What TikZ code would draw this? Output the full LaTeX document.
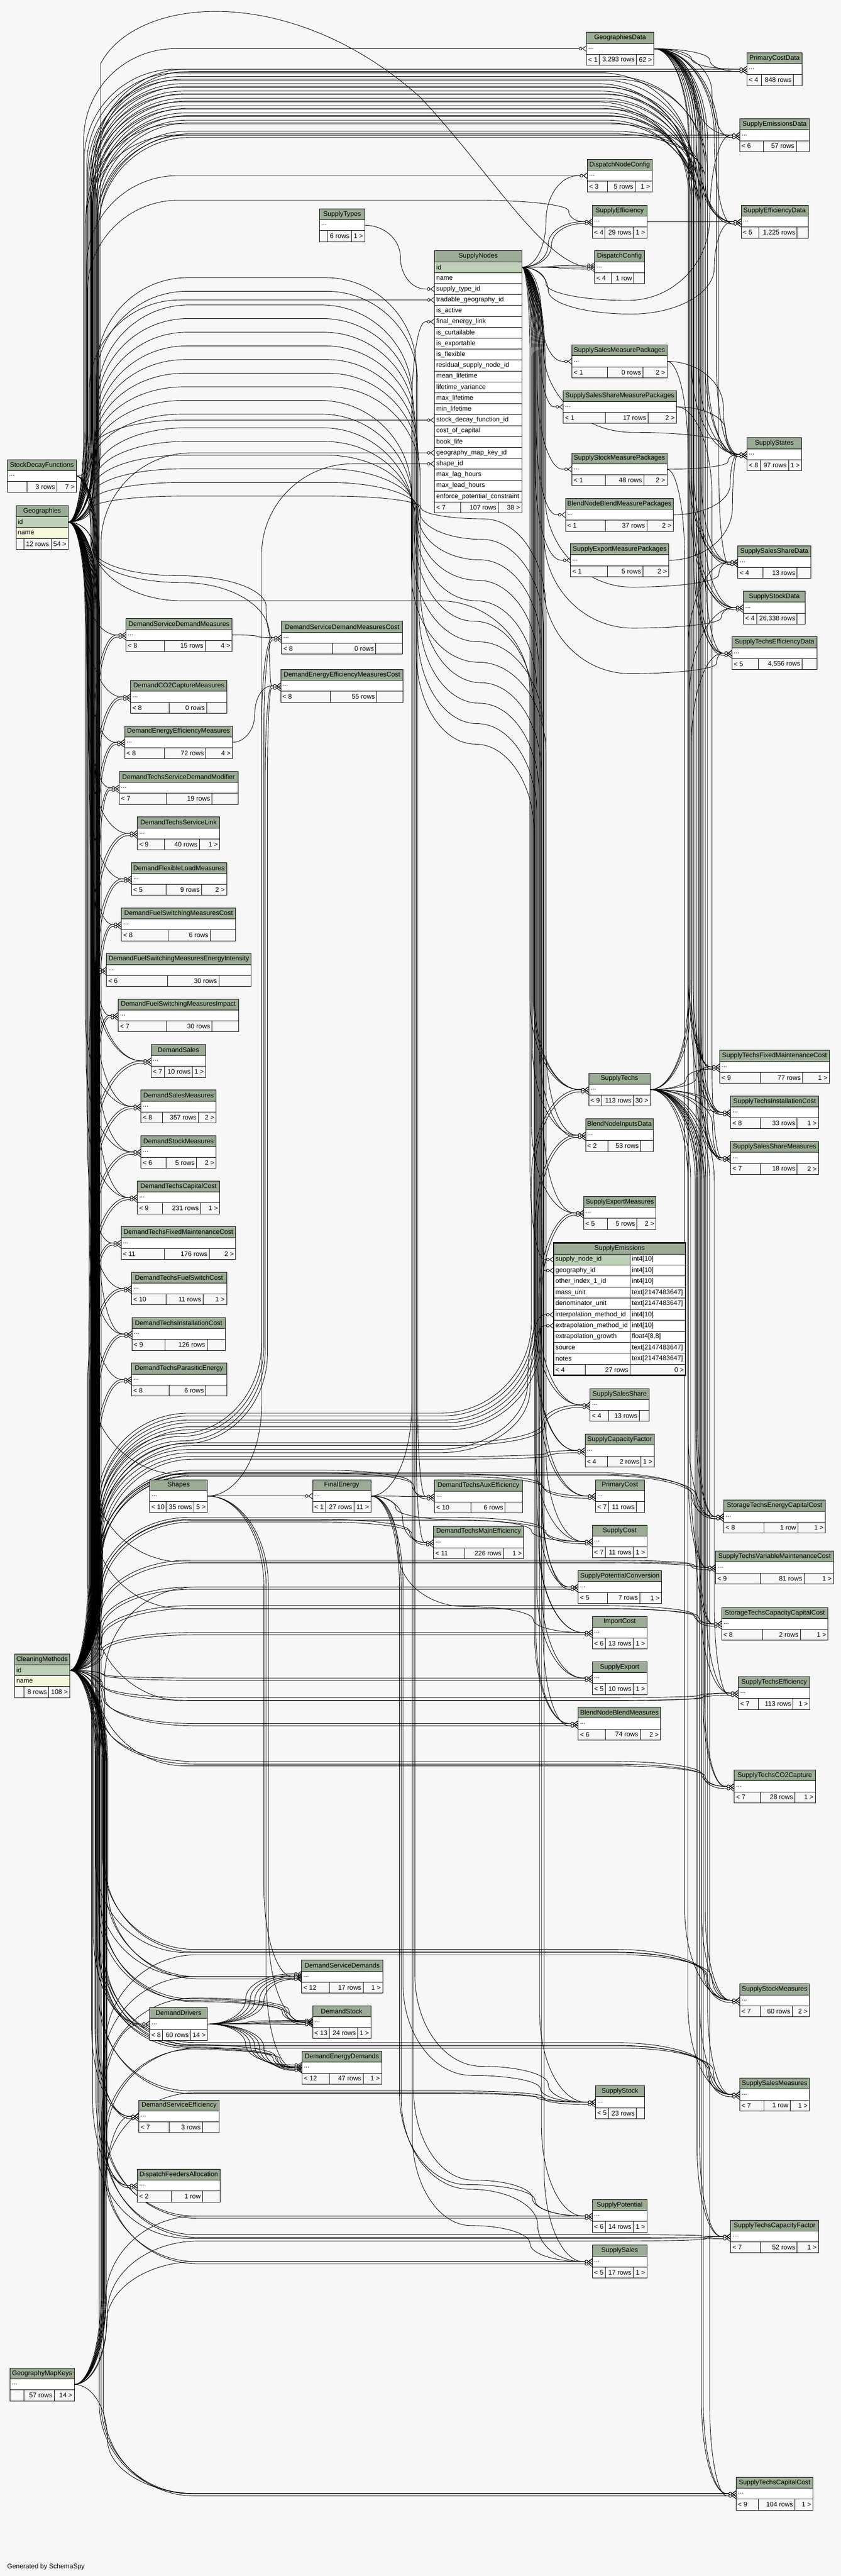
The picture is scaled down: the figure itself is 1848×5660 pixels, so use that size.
\documentclass[tikz,border=0pt]{standalone}
\usepackage{fontspec}
\setmainfont{Liberation Sans}
\usetikzlibrary{arrows.meta,calc}
\definecolor{bgc}{HTML}{F7F7F7}
\definecolor{hdrc}{HTML}{9BAB96}
\definecolor{keyc}{HTML}{BED1B8}
\definecolor{namec}{HTML}{F4F7DA}
\definecolor{ftc}{HTML}{F7F7F7}
\pgfdeclarelayer{back}
\pgfdeclarelayer{edges}
\pgfsetlayers{back,edges,main}
\def\Rx{200}
\def\Ry{200}
\newcommand\tfont{\fontsize{14.5}{17}\selectfont}
\tikzset{
 txt/.style={font=\tfont, inner sep=0pt, outer sep=0pt},
 cell/.style={draw=black, line width=0.9pt},
 tblnode/.style={draw=none, inner sep=0pt, outer sep=0pt},
 fk/.style={draw=black, line width=1pt,
   -{Circle[length=7pt,width=7pt,fill=white,line width=1pt] Straight Barb[reversed,length=8pt,width=12pt,line width=1pt]}}
}
\def\tbparse#1/#2/#3/#4/#5\endparse{\def\fda{#1}\def\fdb{#2}\def\fL{#3}\def\fM{#4}\def\fR{#5}}
% collapsed table: name, x1, y1, x2, title, d1/d2/L/M/R
\newcommand\tb[6]{%
 \tbparse#6\endparse
 \fill[white] (#2,#3) rectangle (#4,#3+72);
 \fill[hdrc] (#2,#3) rectangle (#4,#3+24);
 \fill[ftc] (#2,#3+48) rectangle (#4,#3+72);
 \draw[cell] (#2,#3) rectangle (#4,#3+24);
 \draw[cell] (#2,#3+24) rectangle (#4,#3+48);
 \draw[cell] (#2,#3+48) rectangle (\fda,#3+72);
 \draw[cell] (\fda,#3+48) rectangle (\fdb,#3+72);
 \draw[cell] (\fdb,#3+48) rectangle (#4,#3+72);
 \node[tblnode, minimum width={#4-#2}, minimum height=72, anchor=north west] (#1) at (#2,#3) {};
 \node[txt] (#1-t) at ({(#2+#4)/2},#3+12) {#5};
 \node[txt, anchor=west] (#1-d) at (#2+4,#3+36) {...};
 \node[txt, anchor=west] (#1-l) at (#2+4,#3+60) {\fL};
 \node[txt, anchor=east] (#1-m) at (\fdb-4,#3+60) {\fM};
 \node[txt, anchor=east] (#1-r) at (#4-4,#3+60) {\fR};
}
% table with id / name columns
\newcommand\tbk[6]{%
 \tbparse#6\endparse
 \fill[hdrc] (#2,#3) rectangle (#4,#3+24);
 \fill[keyc] (#2,#3+24) rectangle (#4,#3+48);
 \fill[namec] (#2,#3+48) rectangle (#4,#3+72);
 \fill[ftc] (#2,#3+72) rectangle (#4,#3+96);
 \draw[cell] (#2,#3) rectangle (#4,#3+24);
 \draw[cell] (#2,#3+24) rectangle (#4,#3+48);
 \draw[cell] (#2,#3+48) rectangle (#4,#3+72);
 \draw[cell] (#2,#3+72) rectangle (\fda,#3+96);
 \draw[cell] (\fda,#3+72) rectangle (\fdb,#3+96);
 \draw[cell] (\fdb,#3+72) rectangle (#4,#3+96);
 \node[tblnode, minimum width={#4-#2}, minimum height=96, anchor=north west] (#1) at (#2,#3) {};
 \node[txt] (#1-t) at ({(#2+#4)/2},#3+12) {#5};
 \node[txt, anchor=west] (#1-id) at (#2+4,#3+36) {id};
 \node[txt, anchor=west] (#1-nm) at (#2+4,#3+60) {name};
 \node[txt, anchor=east] (#1-m) at (\fdb-4,#3+84) {\fM};
 \node[txt, anchor=east] (#1-r) at (#4-4,#3+84) {\fR};
}
% edge through one vertical bundle
\newcommand\fa[3]{%
 \draw[fk] let \p1=(#1), \p2=(#2),
  \n{b}={(#3)*1pt},
  \n{s}={ifthenelse(\y2<\y1,-1,1)},
  \n{ya}={min(\Ry,abs(\y2-\y1)/2)},
  \n{xa}={max(0,min(\Rx,\n{b}-\x1))},
  \n{xb}={max(0,min(\Rx,\x2-\n{b}-20))} in
  (\p1) -- ({\n{b}-\n{xa}},{\y1})
  .. controls ({\n{b}-0.448*\n{xa}},{\y1}) and ({\n{b}},{\y1+0.448*(\n{s})*(\n{ya})}) .. ({\n{b}},{\y1+(\n{s})*(\n{ya})})
  -- ({\n{b}},{\y2-(\n{s})*(\n{ya})})
  .. controls ({\n{b}},{\y2-0.448*(\n{s})*(\n{ya})}) and ({\n{b}+0.448*\n{xb}},{\y2}) .. ({\n{b}+\n{xb}},{\y2})
  -- (\p2);}
% edge through two vertical bundles joined at level Y
\newcommand\fb[5]{%
 \draw[fk] let \p1=(#1), \p2=(#2),
  \n{b}={(#3)*1pt}, \n{c}={(#5)*1pt}, \n{Y}={-(#4)*1pt},
  \n{s}={ifthenelse(\n{Y}<\y1,-1,1)}, \n{t}={ifthenelse(\y2<\n{Y},-1,1)},
  \n{ya}={min(\Ry,abs(\n{Y}-\y1)/2)}, \n{yb}={min(\Ry,abs(\y2-\n{Y})/2)},
  \n{xa}={max(0,min(\Rx,\n{b}-\x1))}, \n{xm}={max(0,min(\Rx,(\n{c}-\n{b})/2))},
  \n{xb}={max(0,min(\Rx,\x2-\n{c}-20))} in
  (\p1) -- ({\n{b}-\n{xa}},{\y1})
  .. controls ({\n{b}-0.448*\n{xa}},{\y1}) and ({\n{b}},{\y1+0.448*(\n{s})*(\n{ya})}) .. ({\n{b}},{\y1+(\n{s})*(\n{ya})})
  -- ({\n{b}},{\n{Y}-(\n{s})*(\n{ya})})
  .. controls ({\n{b}},{\n{Y}-0.448*(\n{s})*(\n{ya})}) and ({\n{b}+0.448*\n{xm}},{\n{Y}}) .. ({\n{b}+\n{xm}},{\n{Y}})
  -- ({\n{c}-\n{xm}},{\n{Y}})
  .. controls ({\n{c}-0.448*\n{xm}},{\n{Y}}) and ({\n{c}},{\n{Y}+0.448*(\n{t})*(\n{yb})}) .. ({\n{c}},{\n{Y}+(\n{t})*(\n{yb})})
  -- ({\n{c}},{\y2-(\n{t})*(\n{yb})})
  .. controls ({\n{c}},{\y2-0.448*(\n{t})*(\n{yb})}) and ({\n{c}+0.448*\n{xb}},{\y2}) .. ({\n{c}+\n{xb}},{\y2})
  -- (\p2);}
% edge through three vertical bundles: B1, level Y1, Bm, level Y2, B2
\newcommand\fc[7]{%
 \draw[fk] let \p1=(#1), \p2=(#2),
  \n{b}={(#3)*1pt}, \n{Y}={-(#4)*1pt}, \n{m}={(#5)*1pt}, \n{Z}={-(#6)*1pt}, \n{c}={(#7)*1pt},
  \n{s}={ifthenelse(\n{Y}<\y1,-1,1)}, \n{u}={ifthenelse(\n{Z}<\n{Y},-1,1)}, \n{t}={ifthenelse(\y2<\n{Z},-1,1)},
  \n{ya}={min(\Ry,abs(\n{Y}-\y1)/2)}, \n{yc}={min(\Ry,abs(\n{Z}-\n{Y})/2)}, \n{yb}={min(\Ry,abs(\y2-\n{Z})/2)},
  \n{xa}={max(0,min(\Rx,\n{b}-\x1))}, \n{xm}={max(0,min(\Rx,(\n{m}-\n{b})/2))}, \n{xn}={max(0,min(\Rx,(\n{c}-\n{m})/2))},
  \n{xb}={max(0,min(\Rx,\x2-\n{c}-20))} in
  (\p1) -- ({\n{b}-\n{xa}},{\y1})
  .. controls ({\n{b}-0.448*\n{xa}},{\y1}) and ({\n{b}},{\y1+0.448*(\n{s})*(\n{ya})}) .. ({\n{b}},{\y1+(\n{s})*(\n{ya})})
  -- ({\n{b}},{\n{Y}-(\n{s})*(\n{ya})})
  .. controls ({\n{b}},{\n{Y}-0.448*(\n{s})*(\n{ya})}) and ({\n{b}+0.448*\n{xm}},{\n{Y}}) .. ({\n{b}+\n{xm}},{\n{Y}})
  -- ({\n{m}-\n{xm}},{\n{Y}})
  .. controls ({\n{m}-0.448*\n{xm}},{\n{Y}}) and ({\n{m}},{\n{Y}+0.448*(\n{u})*(\n{yc})}) .. ({\n{m}},{\n{Y}+(\n{u})*(\n{yc})})
  -- ({\n{m}},{\n{Z}-(\n{u})*(\n{yc})})
  .. controls ({\n{m}},{\n{Z}-0.448*(\n{u})*(\n{yc})}) and ({\n{m}+0.448*\n{xn}},{\n{Z}}) .. ({\n{m}+\n{xn}},{\n{Z}})
  -- ({\n{c}-\n{xn}},{\n{Z}})
  .. controls ({\n{c}-0.448*\n{xn}},{\n{Z}}) and ({\n{c}},{\n{Z}+0.448*(\n{t})*(\n{yb})}) .. ({\n{c}},{\n{Z}+(\n{t})*(\n{yb})})
  -- ({\n{c}},{\y2-(\n{t})*(\n{yb})})
  .. controls ({\n{c}},{\y2-0.448*(\n{t})*(\n{yb})}) and ({\n{c}+0.448*\n{xb}},{\y2}) .. ({\n{c}+\n{xb}},{\y2})
  -- (\p2);}
\newcommand\fap[3]{\fa{#1}{#2}{#3}\fa{#1}{[yshift=-5pt]#2}{#3+5}}
\newcommand\fbp[5]{\fb{#1}{#2}{#3}{#4}{#5}\fb{#1}{[yshift=-5pt]#2}{#3+4}{#4+6}{#5+5}}

\begin{document}
\begin{tikzpicture}[x=1pt,y=-1pt]
\useasboundingbox (0,0) rectangle (1848,5660);
\begin{pgfonlayer}{back}
\fill[bgc] (0,0) rectangle (1848,5660);
\end{pgfonlayer}

% ---------------- tables ----------------
\tb{geodata}{1289}{71}{1437}{GeographiesData}{1317/1399/< 1/3,293 rows/62 >}
\tb{pcdata}{1642}{116}{1763}{PrimaryCostData}{1674/1744/< 4/848 rows/}
\tb{semdata}{1626}{261}{1779}{SupplyEmissionsData}{1678/1750/< 6/57 rows/}
\tb{dnc}{1291}{350}{1433}{DispatchNodeConfig}{1335/1396/< 3/5 rows/1 >}
\tb{seff}{1302}{451}{1422}{SupplyEfficiency}{1329/1392/< 4/29 rows/1 >}
\tb{seffdata}{1629}{451}{1776}{SupplyEfficiencyData}{1668/1752/< 5/1,225 rows/}
\tb{dcfg}{1307}{551}{1416}{DispatchConfig}{1344/1393/< 4/1 row/}
\tb{sty}{702}{459}{802}{SupplyTypes}{719/772//6 rows/1 >}
\tb{sdf}{16}{1010}{168}{StockDecayFunctions}{59/125//3 rows/7 >}
\tb{ssmp}{1257}{758}{1466}{SupplySalesMeasurePackages}{1335/1413/< 1/0 rows/2 >}
\tb{sssmp}{1238}{858}{1487}{SupplySalesShareMeasurePackages}{1330/1424/< 1/17 rows/2 >}
\tb{sstates}{1642}{962}{1762}{SupplyStates}{1671/1733/< 8/97 rows/1 >}
\tb{sstmp}{1257}{995}{1466}{SupplyStockMeasurePackages}{1330/1415/< 1/48 rows/2 >}
\tb{bnbmp}{1243}{1095}{1480}{BlendNodeBlendMeasurePackages}{1330/1422/< 1/37 rows/2 >}
\tb{semp}{1254}{1195}{1470}{SupplyExportMeasurePackages}{1335/1413/< 1/5 rows/2 >}
\tb{sssdata}{1622}{1199}{1782}{SupplySalesShareData}{1677/1752/< 4/13 rows/}
\tb{sstdata}{1634}{1299}{1770}{SupplyStockData}{1663/1752/< 4/26,338 rows/}
\tb{stedata}{1609}{1399}{1796}{SupplyTechsEfficiencyData}{1667/1763/< 5/4,556 rows/}
\tb{dsdm}{277}{1359}{510}{DemandServiceDemandMeasures}{362/451/< 8/15 rows/4 >}
\tb{dsdmc}{619}{1365}{885}{DemandServiceDemandMeasuresCost}{731/826/< 8/0 rows/}
\tb{dco2}{287}{1495}{499}{DemandCO2CaptureMeasures}{372/454/< 8/0 rows/}
\tb{deemc}{617}{1471}{886}{DemandEnergyEfficiencyMeasuresCost}{726/828/< 8/55 rows/}
\tb{deem}{274}{1595}{511}{DemandEnergyEfficiencyMeasures}{362/452/< 8/72 rows/4 >}
\tb{dtsdm}{262}{1695}{523}{DemandTechsServiceDemandModifier}{366/466/< 7/19 rows/}
\tb{dtsl}{302}{1795}{483}{DemandTechsServiceLink}{362/438/< 9/40 rows/1 >}
\tb{dflm}{289}{1895}{498}{DemandFlexibleLoadMeasures}{365/443/< 5/9 rows/2 >}
\tb{dfsmc}{267}{1995}{518}{DemandFuelSwitchingMeasuresCost}{370/462/< 8/6 rows/}
\tb{dfsmei}{234}{2095}{552}{DemandFuelSwitchingMeasuresEnergyIntensity}{368/481/< 6/30 rows/}
\tb{dfsmi}{260}{2195}{524}{DemandFuelSwitchingMeasuresImpact}{366/466/< 7/30 rows/}
\tb{dsales}{332}{2295}{452}{DemandSales}{362/423/< 7/10 rows/1 >}
\tb{dsm}{310}{2395}{475}{DemandSalesMeasures}{357/436/< 8/357 rows/2 >}
\tb{dstm}{310}{2495}{475}{DemandStockMeasures}{365/432/< 6/5 rows/2 >}
\tb{dtcc}{302}{2595}{483}{DemandTechsCapitalCost}{357/441/< 9/231 rows/1 >}
\tb{dtfmc}{266}{2695}{518}{DemandTechsFixedMaintenanceCost}{362/460/< 11/176 rows/2 >}
\tb{dtfsc}{289}{2795}{498}{DemandTechsFuelSwitchCost}{365/446/< 10/11 rows/1 >}
\tb{dtic}{290}{2895}{495}{DemandTechsInstallationCost}{363/455/< 9/126 rows/}
\tb{dtpe}{289}{2995}{498}{DemandTechsParasiticEnergy}{372/452/< 8/6 rows/}
\tb{shp}{329}{3251}{456}{Shapes}{365/426/< 10/35 rows/5 >}
\tb{fe}{687}{3251}{815}{FinalEnergy}{716/778/< 1/27 rows/11 >}
\tb{stechs}{1294}{2358}{1429}{SupplyTechs}{1323/1392/< 9/113 rows/30 >}
\tb{bnid}{1287}{2458}{1436}{BlendNodeInputsData}{1336/1408/< 2/53 rows/}
\tb{stfmc}{1582}{2308}{1823}{SupplyTechsFixedMaintenanceCost}{1671/1764/< 9/77 rows/1 >}
\tb{stic}{1606}{2408}{1799}{SupplyTechsInstallationCost}{1671/1752/< 8/33 rows/1 >}
\tb{sssm}{1606}{2508}{1799}{SupplySalesShareMeasures}{1671/1752/< 7/18 rows/2 >}
\tb{sexm}{1283}{2629}{1442}{SupplyExportMeasures}{1335/1400/< 5/5 rows/2 >}
\tb{sss}{1297}{3051}{1427}{SupplySalesShare}{1337/1405/< 4/13 rows/}
\tb{scf}{1286}{3151}{1438}{SupplyCapacityFactor}{1335/1409/< 4/2 rows/1 >}
\tb{pc}{1309}{3251}{1416}{PrimaryCost}{1337/1399/< 7/11 rows/}
\tb{sc}{1302}{3351}{1422}{SupplyCost}{1330/1392/< 7/11 rows/1 >}
\tb{spc}{1271}{3451}{1454}{SupplyPotentialConversion}{1335/1406/< 5/7 rows/1 >}
\tb{ic}{1302}{3551}{1422}{ImportCost}{1330/1392/< 6/13 rows/1 >}
\tb{sex}{1302}{3651}{1422}{SupplyExport}{1330/1392/< 5/10 rows/1 >}
\tb{bnbm}{1271}{3751}{1452}{BlendNodeBlendMeasures}{1330/1407/< 6/74 rows/2 >}
\tb{dtae}{955}{3252}{1148}{DemandTechsAuxEfficiency}{1035/1110/< 10/6 rows/}
\tb{dtme}{953}{3353}{1151}{DemandTechsMainEfficiency}{1021/1106/< 11/226 rows/1 >}
\tb{stecc}{1591}{3296}{1814}{StorageTechsEnergyCapitalCost}{1679/1754/< 8/1 row/1 >}
\tb{stvmc}{1573}{3408}{1832}{SupplyTechsVariableMaintenanceCost}{1671/1767/< 9/81 rows/1 >}
\tb{stccc}{1586}{3532}{1820}{StorageTechsCapacityCapitalCost}{1676/1759/< 8/2 rows/1 >}
\tb{steff}{1623}{3684}{1780}{SupplyTechsEfficiency}{1667/1743/< 7/113 rows/1 >}
\tb{stco2}{1614}{3889}{1792}{SupplyTechsCO2Capture}{1671/1747/< 7/28 rows/1 >}
\tb{dsd}{663}{4307}{841}{DemandServiceDemands}{724/798/< 12/17 rows/1 >}
\tb{dst}{687}{4407}{815}{DemandStock}{724/786/< 13/24 rows/1 >}
\tb{ded}{664}{4507}{839}{DemandEnergyDemands}{724/798/< 12/47 rows/1 >}
\tb{ddr}{329}{4411}{456}{DemandDrivers}{357/419/< 8/60 rows/14 >}
\tb{dse}{305}{4614}{482}{DemandServiceEfficiency}{372/445/< 7/3 rows/}
\tb{dfa}{302}{4766}{484}{DispatchFeedersAllocation}{376/445/< 2/1 row/}
\tb{gmk}{22}{5203}{163}{GeographyMapKeys}{52/119//57 rows/14 >}
\tb{sstm}{1626}{4359}{1779}{SupplyStockMeasures}{1671/1741/< 7/60 rows/2 >}
\tb{ssam}{1626}{4566}{1779}{SupplySalesMeasures}{1679/1737/< 7/1 row/1 >}
\tb{sstock}{1309}{4583}{1416}{SupplyStock}{1337/1399/< 5/23 rows/}
\tb{spot}{1302}{4833}{1422}{SupplyPotential}{1330/1392/< 6/14 rows/1 >}
\tb{ssales}{1302}{4933}{1422}{SupplySales}{1330/1392/< 5/17 rows/1 >}
\tb{stcf}{1606}{4878}{1799}{SupplyTechsCapacityFactor}{1671/1752/< 7/52 rows/1 >}
\tb{stcc}{1618}{5443}{1787}{SupplyTechsCapitalCost}{1667/1747/< 9/104 rows/1 >}

\tbk{geo}{35}{1111}{150}{Geographies}{52/112//12 rows/54 >}
\tbk{cm}{32}{3634}{153}{CleaningMethods}{52/107//8 rows/108 >}
\coordinate (geo-o) at (150,1147);
\coordinate (cm-o) at (153,3670);

% SupplyNodes
\fill[white] (955,551) rectangle (1147,1127);
\fill[hdrc] (955,551) rectangle (1147,575);
\fill[keyc] (955,575) rectangle (1147,599);
\fill[ftc] (955,1103) rectangle (1147,1127);
\foreach \kk in {0,...,22}{\draw[cell] (955,551+24*\kk) rectangle (1147,575+24*\kk);}
\draw[cell] (955,1103) rectangle (1012,1127);
\draw[cell] (1012,1103) rectangle (1095,1127);
\draw[cell] (1095,1103) rectangle (1147,1127);
\node[tblnode,minimum width=192,minimum height=576,anchor=north west] (sn) at (955,551) {};
\node[txt] (sn-t) at (1051,563) {SupplyNodes};
\foreach \cc [count=\kk from 0] in {id,name,supply\_type\_id,tradable\_geography\_id,is\_active,final\_energy\_link,is\_curtailable,is\_exportable,is\_flexible,residual\_supply\_node\_id,mean\_lifetime,lifetime\_variance,max\_lifetime,min\_lifetime,stock\_decay\_function\_id,cost\_of\_capital,book\_life,geography\_map\_key\_id,shape\_id,max\_lag\_hours,max\_lead\_hours,enforce\_potential\_constraint}
  {\node[txt,anchor=west] (sn-c\kk) at (959,587+24*\kk) {\cc};}
\node[txt,anchor=west] (sn-fl) at (959,1115) {< 7};
\node[txt,anchor=east] (sn-fm) at (1091,1115) {107 rows};
\node[txt,anchor=east] (sn-fr) at (1143,1115) {38 >};
\coordinate (sn-o) at (1147,587);
\coordinate (sn-type) at (955,635);
\coordinate (sn-trade) at (955,659);
\coordinate (sn-fe) at (955,707);
\coordinate (sn-sdf) at (955,923);
\coordinate (sn-gmk) at (955,995);
\coordinate (sn-shape) at (955,1019);

% SupplyEmissions (focus table)
\fill[white] (1217,2731) rectangle (1507,3022);
\fill[hdrc] (1217,2731) rectangle (1507,2755.25);
\fill[keyc] (1217,2755.25) rectangle (1385,2779.5);
\fill[ftc] (1217,2997.75) rectangle (1507,3022);
\draw[cell] (1217,2731) rectangle (1507,2755.25);
\foreach \kk in {1,...,10}{
  \draw[cell] (1217,2731+24.25*\kk) rectangle (1385,2755.25+24.25*\kk);
  \draw[cell] (1385,2731+24.25*\kk) rectangle (1507,2755.25+24.25*\kk);}
\draw[cell] (1217,2997.75) rectangle (1286,3022);
\draw[cell] (1286,2997.75) rectangle (1385,3022);
\draw[cell] (1385,2997.75) rectangle (1507,3022);
\draw[line width=2.6pt] (1217,2731) rectangle (1507,3022);
\node[tblnode,minimum width=290,minimum height=291,anchor=north west] (sem) at (1217,2731) {};
\node[txt] (sem-t) at (1362,2743) {SupplyEmissions};
\foreach \cc/\ty [count=\kk from 1] in {supply\_node\_id/int4[10],geography\_id/int4[10],other\_index\_1\_id/int4[10],mass\_unit/text[2147483647],denominator\_unit/text[2147483647],interpolation\_method\_id/int4[10],extrapolation\_method\_id/int4[10],extrapolation\_growth/{float4[8,8]},source/text[2147483647],notes/text[2147483647]}
  {\node[txt,anchor=west] (sem-c\kk) at (1221,2731+24.25*\kk+12.1) {\cc};
   \node[txt,anchor=west] (sem-y\kk) at (1389,2731+24.25*\kk+12.1) {\ty};}
\node[txt,anchor=west] (sem-fl) at (1221,3010) {< 4};
\node[txt,anchor=east] (sem-fm) at (1381,3010) {27 rows};
\node[txt,anchor=east] (sem-fr) at (1503,3010) {0 >};
\coordinate (sem-sn) at (1217,2767.4);
\coordinate (sem-geo) at (1217,2791.6);
\coordinate (sem-int) at (1217,2888.6);
\coordinate (sem-ext) at (1217,2912.9);

\node[txt,anchor=west] (gen) at (16,5640) {Generated by SchemaSpy};

% ---------------- relationships ----------------
\begin{pgfonlayer}{edges}
% Geographies
\fa{geo-o}{geodata.west}{184}
\fa{geo-o}{sn-trade}{196}
\fa{geo-o}{dnc.west}{190}
\fb{geo-o}{seff.west}{192}{440}{1250}
\draw[fk] (geo-o) .. controls (221,1147) and (221,1050) .. (221,900) -- (221,140)
   .. controls (300,-10) and (640,-40) .. (924,214) .. controls (1080,380) and (1200,587) .. (dcfg.west);
\fa{geo-o}{pcdata.west}{185}
\fa{geo-o}{semdata.west}{187}
\foreach \tn/\bx in {dsdm/186,dco2/188,deem/190,dtsdm/192,dtsl/194,dflm/196,dfsmc/198,dfsmei/200,dfsmi/202,dsales/204,dsm/187,dstm/189,dtcc/191,dtfmc/193,dtfsc/195,dtic/197,dtpe/199,dse/201,dfa/203,ddr/205,dsd/215,stcc/218}
  {\fa{geo-o}{\tn.west}{\bx}}
\fb{geo-o}{dsdmc.west}{205}{1265}{585}
\fb{geo-o}{deemc.west}{208}{1280}{592}
\fc{geo-o}{sem-geo}{203}{1030}{919}{1230}{1190}
\foreach \tn/\ba/\ya/\bm/\yb/\bc in {bnid/199/1090/925/1140/1200,sexm/201/1060/922/1185/1195,sss/205/1000/916/1275/1185,scf/207/970/913/1320/1180,stechs/209/940/910/1365/1175,pc/200/910/907/1410/1195,sc/202/880/904/1455/1200,spc/204/850/924/1500/1190,ic/206/820/921/1545/1185,sex/208/790/918/1590/1180,bnbm/210/760/915/1635/1175,sstock/211/730/912/4540/1205,spot/213/700/909/4790/1170,ssales/215/670/906/4890/1165}
  {\fc{geo-o}{\tn.west}{\ba}{\ya}{\bm}{\yb}{\bc}}
\foreach \tn/\ba/\yy/\bc in {dtae/211/640/918,dtme/213/610/915,dst/217/4395/620,ded/219/4500/600,sstates/191/160/1520,sssdata/193/176/1525,sstdata/195/192/1530,stedata/197/208/1535,stfmc/199/224/1513,stic/201/240/1540,sssm/203/256/1545,seffdata/189/272/1540,stecc/200/3240/1530,stvmc/202/3432/1525,stccc/204/3535/1535,steff/206/3737/1545,stco2/208/3880/1550,sstm/210/4290/1555,ssam/212/4495/1560,stcf/214/4918/1548}
  {\fb{geo-o}{\tn.west}{\ba}{\yy}{\bc}}
% CleaningMethods
\foreach \tn/\bx in {dsdm/206,dco2/208,deem/210,dtsdm/212,dtsl/207,dflm/209,dfsmc/211,dfsmei/196,dfsmi/205,dsales/203,dsm/201,dstm/199,dtcc/197,dtfmc/195,dtfsc/193,dtic/205,dtpe/207,dse/209,dfa/211,ddr/213,spc/220,ic/222,sex/224,bnbm/226,spot/228,ssales/230,dsd/232,stcc/222,pcdata/210,semdata/212}
  {\fap{cm-o}{\tn.west}{\bx}}
\foreach \tn/\ba/\yy/\bc in {stechs/214/3105/1168,bnid/216/3120/1176,sexm/218/3135/1184,sss/220/3170/1192,scf/222/3200/1200,pc/214/3238/1190,sc/216/3334/1195,sstock/218/4594/1192,dtae/219/3230/905,dtme/221/3338/900,dst/223/4392/625,ded/225/4492/605,dsdmc/214/3150/575,deemc/218/3166/583,sstates/200/168/1550,sssdata/202/184/1515,sstdata/204/200/1520,stedata/206/216/1525,stfmc/208/232/1518,stic/210/248/1530,sssm/212/264/1535,seffdata/214/288/1545,stecc/216/3236/1520,stvmc/218/3428/1515,stccc/220/3528/1525,steff/222/3730/1538,stco2/224/3870/1542,sstm/226/4283/1548,ssam/228/4488/1552,stcf/230/4910/1540}
  {\fbp{cm-o}{\tn.west}{\ba}{\yy}{\bc}}
\fb{cm-o}{sem-int}{214}{3185}{1160}
\fb{cm-o}{sem-ext}{218}{3192}{1165}
% GeographyMapKeys
\fa{gmk.east}{sn-gmk}{222}
\foreach \tn/\bx in {ddr/224,dsd/226,dse/228,spc/230,spot/232,ssales/234,stcc/236}
  {\fa{gmk.east}{\tn.west}{\bx}}
\foreach \tn/\ba/\yy/\bc in {dst/226/4390/635,ded/228/4503/615,sstock/230/4598/1180,sstm/232/4295/1565,ssam/234/4500/1568,stcf/236/4924/1552}
  {\fb{gmk.east}{\tn.west}{\ba}{\yy}{\bc}}
% StockDecayFunctions
\fa{sdf.east}{sn-sdf}{206}
\fb{sdf.east}{stechs.west}{200}{1320}{1165}
\foreach \tn/\bx in {dsales/210,dsm/212,dstm/214,dtcc/216,dtic/218}
  {\fa{sdf.east}{\tn.west}{\bx}}
% SupplyTypes
\fa{sty.east}{sn-type}{880}
% FinalEnergy
\fa{fe.east}{dtae.west}{880}
\fa{fe.east}{dtme.west}{885}
\fa{fe.east}{sn-fe}{905}
\foreach \tn/\ba/\yy/\bc in {sc/870/3340/1168,ic/875/3530/1172,spot/878/4800/1176,ssales/882/4810/1182,sstock/886/4560/1188}
  {\fb{fe.east}{\tn.west}{\ba}{\yy}{\bc}}
% Shapes
\fa{shp.east}{fe.west}{570}
\fa{shp.east}{sn-shape}{575}
\foreach \tn/\bx in {dsd/580,ded/585,dst/590}
  {\fa{shp.east}{\tn.west}{\bx}}
% DemandDrivers
\foreach \bx/\ys in {540/6,550/3,560/0,570/-3,580/-6}
  {\fa{ddr.east}{[yshift=\ys pt]dsd.west}{\bx}
   \fa{ddr.east}{[yshift=\ys pt]ded.west}{\bx}}
\foreach \bx/\ys in {545/4,555/1,565/-2,575/-5}
  {\fa{ddr.east}{[yshift=\ys pt]dst.west}{\bx}}
% SupplyNodes
\fa{sn-o}{dnc.west}{1200}
\fa{sn-o}{seff.west}{1205}
\fa{sn-o}{[yshift=-4pt]seff.west}{1212}
\fa{sn-o}{[yshift=4pt]dcfg.west}{1218}
\fa{sn-o}{dcfg.west}{1224}
\fa{sn-o}{[yshift=-4pt]dcfg.west}{1230}
\foreach \tn/\bx in {ssmp/1190,sssmp/1185,sstmp/1180,bnbmp/1178,semp/1176,stechs/1172,bnid/1170,sexm/1168,sss/1174,scf/1182,pc/1188,sc/1176,spc/1180,ic/1184,sex/1190,bnbm/1178,sstock/1186,spot/1190,ssales/1196}
  {\fa{sn-o}{\tn.west}{\bx}}
\fa{sn-o}{[yshift=-5pt]bnid.west}{1186}
\fa{sn-o}{[yshift=-5pt]spc.west}{1192}
\fa{sn-o}{[yshift=-5pt]bnbm.west}{1194}
\fa{sn-o}{sem-sn}{1165}
\foreach \tn/\ba/\yy/\bc in {semdata/1200/660/1560,seffdata/1205/690/1570,sstates/1195/950/1585,sssdata/1198/1290/1580,sstdata/1196/1380/1585,stedata/1194/1480/1575}
  {\fb{sn-o}{\tn.west}{\ba}{\yy}{\bc}}
% SupplyTechs
\foreach \tn/\bx in {stfmc/1530,stic/1540,sssm/1550,stedata/1520,stecc/1534,stvmc/1518,stccc/1528,steff/1552,stco2/1548,sstm/1542,ssam/1538,stcf/1532,stcc/1546}
  {\fa{stechs.east}{\tn.west}{\bx}}
\foreach \tn/\bx in {stfmc/1508,stic/1556,sssm/1566,stecc/1512,steff/1570,stcc/1560}
  {\fa{stechs.east}{[yshift=-5pt]\tn.west}{\bx}}
\fa{stechs.east}{sstdata.west}{1515}
\fa{stechs.east}{sssdata.west}{1512}
% GeographiesData
\foreach \tn/\bx in {pcdata/1520,semdata/1525,seffdata/1530,sstates/1535,sssdata/1540,sstdata/1545,stedata/1550,stfmc/1515,stic/1520,sssm/1525,stecc/1530,stvmc/1513,stccc/1535,steff/1540,stco2/1545,sstm/1550,ssam/1555,stcf/1538,stcc/1542}
  {\fa{geodata.east}{\tn.west}{\bx}}
\foreach \tn/\bx in {pcdata/1560,semdata/1565,seffdata/1570,sstates/1575,sssdata/1580}
  {\fa{geodata.east}{[yshift=-5pt]\tn.west}{\bx}}
% packages and measures
\fa{ssmp.east}{sstates.west}{1590}
\fa{ssmp.east}{ssam.west}{1512}
\fa{sssmp.east}{sstates.west}{1595}
\fa{sssmp.east}{sssm.west}{1565}
\fa{sstmp.east}{sstates.west}{1600}
\fa{sstmp.east}{sstm.west}{1505}
\fa{bnbmp.east}{sstates.west}{1605}
\fa{semp.east}{sstates.west}{1610}
\fa{seff.east}{seffdata.west}{1525}
\fa{dsdm.east}{dsdmc.west}{565}
\fa{deem.east}{deemc.west}{560}
\end{pgfonlayer}
\end{tikzpicture}
\end{document}
